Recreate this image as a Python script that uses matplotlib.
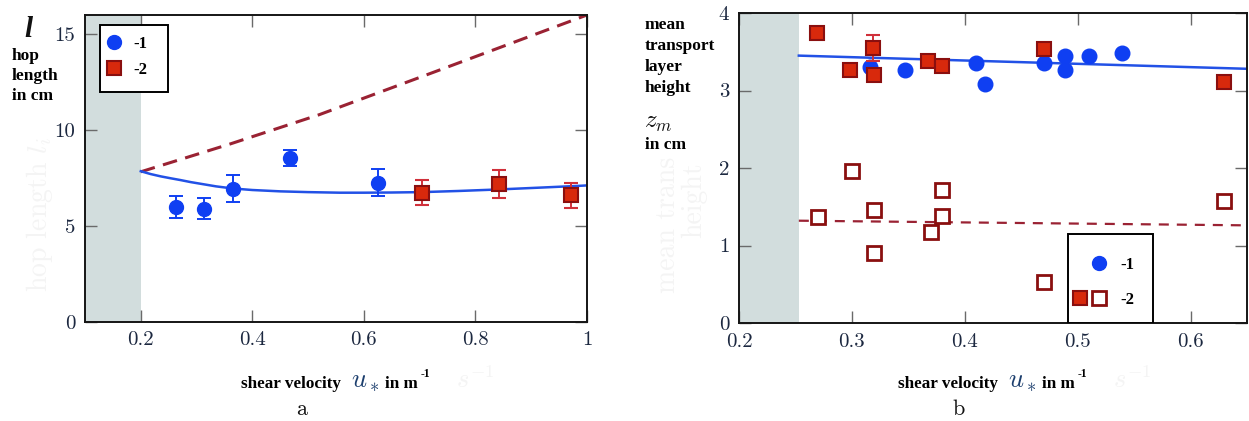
import matplotlib
matplotlib.use("Agg")
import matplotlib.pyplot as plt
from matplotlib.lines import Line2D
from matplotlib.patches import Rectangle
from matplotlib.legend_handler import HandlerTuple

plt.rcParams['axes.formatter.use_mathtext'] = True
plt.rcParams['mathtext.fontset'] = 'cm'

# --- (a) hop length ---
a_blue_x = [0.264, 0.314, 0.365, 0.467, 0.625]
a_blue_y = [6.0, 5.9, 6.94, 8.54, 7.25]
a_blue_err = [0.58, 0.54, 0.7, 0.4, 0.7]
a_red_x = [0.704, 0.842, 0.972]
a_red_y = [6.73, 7.18, 6.59]
a_red_err = [0.65, 0.72, 0.66]
a_fit_blue_x = [0.2, 0.218, 0.236, 0.254, 0.271, 0.29, 0.3125, 0.335, 0.365, 0.40, 0.45,
                0.50, 0.557, 0.6, 0.65, 0.704, 0.77, 0.842, 0.92, 0.9875, 1.0]
a_fit_blue_y = [7.85, 7.70, 7.58, 7.48, 7.39, 7.28, 7.17, 7.06, 6.95, 6.87, 6.80,
                6.76, 6.73, 6.73, 6.74, 6.76, 6.82, 6.90, 7.00, 7.09, 7.11]
a_fit_red_x = [0.2, 0.36, 0.52, 0.72, 1.0]
a_fit_red_y = [7.82, 9.27, 10.8, 12.96, 16.0]

# --- (b) mean transport layer height ---
b_blue_x = [0.316, 0.347, 0.410, 0.418, 0.470, 0.489, 0.489, 0.510, 0.539]
b_blue_y = [3.30, 3.26, 3.36, 3.09, 3.36, 3.44, 3.26, 3.44, 3.48]
b_red_x = [0.269, 0.298, 0.319, 0.320, 0.367, 0.380, 0.470, 0.630]
b_red_y = [3.74, 3.26, 3.55, 3.20, 3.38, 3.32, 3.53, 3.11]
b_red_err = [0, 0, 0.17, 0, 0, 0, 0, 0]
b_open_x = [0.270, 0.300, 0.320, 0.320, 0.370, 0.380, 0.380, 0.470, 0.630]
b_open_y = [1.37, 1.965, 1.46, 0.905, 1.18, 1.71, 1.38, 0.53, 1.575]
b_fit_blue_x = [0.253, 0.65]
b_fit_blue_y = [3.45, 3.28]
b_fit_red_x = [0.253, 0.65]
b_fit_red_y = [1.32, 1.26]

BLUE = '#0f3ff2'
LINE_BLUE = '#2251e6'
RED_FILL = '#d8290c'
RED_EDGE = '#8a0f0f'
RED_ERR = '#d0303a'
MAROON = '#9a2233'
BAND = '#d2dddd'
TICKLAB = '#1c2840'

LBL = dict(family='Liberation Serif', weight='bold', size=12.5, color='black')
LEG = dict(family='Liberation Serif', weight='bold', size=12)

fig = plt.figure(figsize=(12.49, 4.21), dpi=100)
W, H = 1249, 421

ax_a = fig.add_axes([85 / W, (H - 321.7) / H, 502 / W, 306.7 / H])
ax_b = fig.add_axes([739 / W, (H - 323) / H, 508 / W, 310 / H])


def style_axes(ax):
    for s in ax.spines.values():
        s.set_linewidth(1.4)
        s.set_color('#151515')
        s.set_zorder(6)
    ax.tick_params(direction='in', length=8.5, width=1.0, color='#6a6a6a',
                   top=True, right=True, labelsize=15, labelcolor=TICKLAB, pad=7)
    for lab in ax.get_xticklabels() + ax.get_yticklabels():
        lab.set_family('cmr10')


# panel a
ax_a.set_xlim(0.1, 1.0)
ax_a.set_ylim(0, 16)
ax_a.axvspan(0.1, 0.2, color=BAND, lw=0, zorder=0)
ax_a.plot(a_fit_red_x, a_fit_red_y, color=MAROON, lw=2.2, dashes=(4.8, 2.8), zorder=2)
ax_a.plot(a_fit_blue_x, a_fit_blue_y, color=LINE_BLUE, lw=1.8, zorder=2)
ax_a.errorbar(a_blue_x, a_blue_y, yerr=a_blue_err, fmt='o', ms=10, mfc=BLUE, mec=BLUE,
              ecolor=BLUE, elinewidth=1.4, capsize=5, capthick=1.4, zorder=3)
ax_a.errorbar(a_red_x, a_red_y, yerr=a_red_err, fmt='s', ms=10, mfc=RED_FILL, mec=RED_EDGE,
              mew=1.5, ecolor=RED_ERR, elinewidth=1.4, capsize=5, capthick=1.4, zorder=3)
ax_a.set_xticks([0.2, 0.4, 0.6, 0.8, 1.0])
ax_a.set_xticklabels(['0.2', '0.4', '0.6', '0.8', '1'])
ax_a.set_yticks([0, 5, 10, 15])
ax_a.set_yticklabels(['0', '5', '10', '15'])
style_axes(ax_a)

h_blue = Line2D([], [], ls='none', marker='o', ms=10, mfc=BLUE, mec=BLUE)
h_red = Line2D([], [], ls='none', marker='s', ms=10, mfc=RED_FILL, mec=RED_EDGE, mew=1.5)
h_open = Line2D([], [], ls='none', marker='s', ms=9.5, mfc='white', mec=RED_EDGE, mew=2)
h_none = Line2D([], [], ls='none', marker='none')

ax_a.add_patch(Rectangle((0.030, 0.749), 0.135, 0.218, transform=ax_a.transAxes,
                         fc='white', ec='black', lw=1.4, zorder=7))
leg_a = ax_a.legend([h_blue, h_red], ['-1', '-2'], loc='upper left',
                    bbox_to_anchor=(0.041, 0.932), frameon=False, prop=LEG,
                    borderpad=0, handlelength=1.0, handletextpad=0.65,
                    labelspacing=0.6, borderaxespad=0)
leg_a.set_zorder(8)

# panel b
ax_b.set_xlim(0.2, 0.65)
ax_b.set_ylim(0, 4)
ax_b.axvspan(0.2, 0.253, color=BAND, lw=0, zorder=0)
ax_b.plot(b_fit_blue_x, b_fit_blue_y, color=LINE_BLUE, lw=1.8, zorder=2)
ax_b.plot(b_fit_red_x, b_fit_red_y, color=MAROON, lw=1.6, dashes=(4.5, 3.6), zorder=2)
ax_b.plot(b_blue_x, b_blue_y, 'o', ms=10.5, mfc=BLUE, mec=BLUE, zorder=3)
ax_b.errorbar(b_red_x, b_red_y, yerr=b_red_err, fmt='s', ms=10, mfc=RED_FILL, mec=RED_EDGE,
              mew=1.5, ecolor=RED_ERR, elinewidth=1.4, capsize=5, capthick=1.4, zorder=4)
ax_b.plot(b_open_x, b_open_y, 's', ms=9.5, mfc='white', mec=RED_EDGE, mew=2, zorder=3)
ax_b.set_xticks([0.2, 0.3, 0.4, 0.5, 0.6])
ax_b.set_xticklabels(['0.2', '0.3', '0.4', '0.5', '0.6'])
ax_b.set_yticks([0, 1, 2, 3, 4])
ax_b.set_yticklabels(['0', '1', '2', '3', '4'])
style_axes(ax_b)

ax_b.add_patch(Rectangle((0.6476, 0.0), 0.1674, 0.288, transform=ax_b.transAxes,
                         fc='white', ec='black', lw=1.4, zorder=7))
leg_b = ax_b.legend([(h_none, h_blue), (h_red, h_open)], ['-1', '-2'], loc='upper left',
                    bbox_to_anchor=(0.6526, 0.212), frameon=False, prop=LEG,
                    borderpad=0, handlelength=2.27, handletextpad=0.7,
                    labelspacing=1.1, borderaxespad=0,
                    handler_map={tuple: HandlerTuple(ndivide=None, pad=0)})
leg_b.set_zorder(8)

# faint leftovers of the original axis titles
ghost = '#f4f4f4'
fig.text(40 / W, 1 - 215 / H, r'hop length $l_i$', rotation=90, ha='center', va='center',
         family='cmr10', size=20, color=ghost)
fig.text(668 / W, 1 - 225 / H, 'mean trans', rotation=90, ha='center', va='center',
         family='cmr10', size=20, color=ghost)
fig.text(694 / W, 1 - 200 / H, 'height', rotation=90, ha='center', va='center',
         family='cmr10', size=20, color=ghost)

# y-axis titles
fig.text(24 / W, 1 - 16 / H, 'l', ha='left', va='top', family='Liberation Serif',
         weight='bold', style='italic', size=21, color='#111111')
fig.text(12 / W, 1 - 48 / H, 'hop\nlength\nin cm', ha='left', va='top', linespacing=1.32, **LBL)
fig.text(645 / W, 1 - 17 / H, 'mean\ntransport\nlayer\nheight', ha='left', va='top',
         linespacing=1.42, **LBL)
fig.text(644 / W, 1 - 122 / H, r'$z_m$', ha='left', va='center', size=18, color='#111111')
fig.text(645 / W, 1 - 145 / H, 'in cm', ha='left', va='center', **LBL)


def shear_label(cx, ax_letter, letter_x):
    start = cx - 95
    y = 1 - 388 / H
    fig.text(start / W, y, 'shear velocity', ha='left', va='baseline',
             family='Liberation Serif', weight='bold', size=12.3)
    fig.text((start + 110) / W, y, r'$u_*$', ha='left', va='baseline', size=19, color='#1d3f6e')
    fig.text((start + 144) / W, y, 'in m', ha='left', va='baseline',
             family='Liberation Serif', weight='bold', size=12.3)
    fig.text((start + 180) / W, 1 - 377 / H, '-1', ha='left', va='baseline',
             family='Liberation Serif', weight='bold', size=8.5)
    fig.text((start + 215) / W, y, r'$s^{-1}$', ha='left', va='baseline', size=19, color=ghost)
    fig.text(letter_x / W, 1 - 409 / H, ax_letter, ha='center', va='center',
             family='cmr10', size=16, color='#111111')


shear_label(336, 'a', 302)
shear_label(993, 'b', 959)

fig.savefig('out.png', dpi=100, facecolor='white')
